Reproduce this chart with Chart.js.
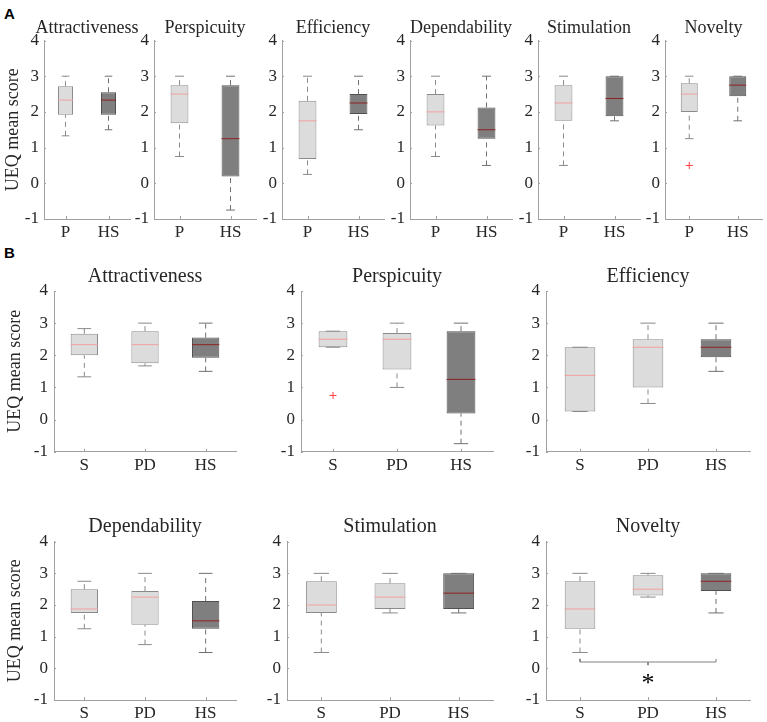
<!DOCTYPE html>
<html>
<head>
<meta charset="utf-8">
<script src="https://cdn.jsdelivr.net/npm/chart.js@4.4.1/dist/chart.umd.min.js"></script>
<style>
  html,body{margin:0;padding:0;background:#fff;}
  body{width:767px;height:722px;position:relative;overflow:hidden;}
  canvas{position:absolute;left:0;top:0;}
  .plab{position:absolute;font:bold 15px "Liberation Sans",Arial,sans-serif;color:#000;line-height:1;}
</style>
</head>
<body>
<div class="plab" style="left:4px;top:6px;">A</div>
<div class="plab" style="left:4px;top:245px;">B</div>
<script>
// ---------------- data ----------------
const scaleNames = ['Attractiveness','Perspicuity','Efficiency','Dependability','Stimulation','Novelty'];
const groupsA = ['P','HS'];
const groupsB = ['S','PD','HS'];
const yTickMin = -1, yTickMax = 4, yTickStep = 1;
const yLabel = 'UEQ mean score';

// five-number summaries per UEQ scale (same order as scaleNames)
const P_low  = [1.33, 0.75, 0.25, 0.75, 0.5, 1.25];
const P_q1   = [1.92, 1.68, 0.68, 1.62, 1.75, 2.0];
const P_med  = [2.33, 2.5, 1.75, 2.0, 2.25, 2.5];
const P_q3   = [2.72, 2.75, 2.31, 2.5, 2.75, 2.8];
const P_high = [3, 3, 3, 3, 3, 3];

const S_low  = [1.33, 2.25, 0.25, 1.25, 0.5, 0.5];
const S_q1   = [2.0, 2.25, 0.25, 1.75, 1.75, 1.25];
const S_med  = [2.33, 2.5, 1.375, 1.875, 2.0, 1.875];
const S_q3   = [2.67, 2.75, 2.25, 2.5, 2.75, 2.75];
const S_high = [2.83, 2.75, 2.25, 2.75, 3, 3];

const PD_low  = [1.67, 1.0, 0.5, 0.75, 1.75, 2.25];
const PD_q1   = [1.75, 1.56, 1.0, 1.375, 1.875, 2.3];
const PD_med  = [2.33, 2.5, 2.25, 2.25, 2.25, 2.5];
const PD_q3   = [2.75, 2.69, 2.5, 2.44, 2.69, 2.94];
const PD_high = [3, 3, 3, 3, 3, 3];

const HS_low  = [1.5, -0.75, 1.5, 0.5, 1.75, 1.75];
const HS_q1   = [1.92, 0.19, 1.94, 1.25, 1.875, 2.44];
const HS_med  = [2.33, 1.25, 2.25, 1.5, 2.375, 2.75];
const HS_q3   = [2.55, 2.75, 2.5, 2.125, 3, 3];
const HS_high = [3, 3, 3, 3, 3, 3];

// outliers: [scale index, value]
const P_outliers = [[5, 0.5]];
const S_outliers = [[1, 0.75]];

// significance bracket (panel B, Novelty): S vs HS
const sigScaleIndex = 5;
const sigFrom = 'S', sigTo = 'HS', sigMid = 'PD';
const sigLevel = 0.2, sigMarkLevel = -0.3, sigMark = '*';

// ---------------- layout / style ----------------
const FONT = '"Liberation Serif","Times New Roman",serif';
const TXT = '#262626';
const AXIS = '#a0a0a0';
const LIGHT = {fill:'#dcdcdc', edge:'#8a8a8a', med:'#f2a0a0', whisk:'#8a8a8a'};
const DARK  = {fill:'#7f7f7f', edge:'#505050', med:'#8e2222', whisk:'#707070'};

const rowA = {top:40.5, bottom:219, titleGap:12.5, lefts:[44,154,282,410,538,665], rights:[130,256,384,512,640,767],
  boxFrac:0.35, tickFont:17, titleFont:18, xPad:3, yPad:5, ylabPad:2};
const rowB1 = {top:291, bottom:451.7, titleGap:14, lefts:[54,301,546], rights:[236,493,750],
  boxFrac:0.45, tickFont:17, titleFont:20, xPad:4, yPad:6, ylabPad:4};
const rowB2 = {top:541.7, bottom:700, titleGap:14.7, lefts:[54,287,546], rights:[236,493,750],
  boxFrac:0.45, tickFont:17, titleFont:20, xPad:3, yPad:6, ylabPad:4};

// ---------------- plugins ----------------
const panelTitle = {
  id:'panelTitle',
  afterDraw(chart, args, o){
    const a = chart.chartArea, ctx = chart.ctx;
    ctx.save();
    ctx.font = o.size + 'px ' + FONT;
    ctx.fillStyle = TXT; ctx.textAlign = 'center'; ctx.textBaseline = 'middle';
    ctx.fillText(o.text, (a.left + a.right)/2, a.top - o.gap);
    if (o.mark) {
      const px = chart.scales.x.getPixelForValue(chart.scales.x.parse(o.mark.x));
      const py = chart.scales.y.getPixelForValue(o.mark.y);
      ctx.font = '26px ' + FONT; ctx.fillStyle = '#000';
      ctx.textBaseline = 'alphabetic';
      ctx.fillText(o.mark.text, px, py + 13);
    }
    ctx.restore();
  }
};
const inwardTicks = {
  id:'inwardTicks',
  afterDraw(chart){
    const {ctx, chartArea:a, scales:{x, y}} = chart;
    ctx.save(); ctx.strokeStyle = AXIS; ctx.lineWidth = 1; ctx.beginPath();
    x.ticks.forEach((t,i)=>{ const p = Math.round(x.getPixelForTick(i)) + 0.5; ctx.moveTo(p, a.bottom); ctx.lineTo(p, a.bottom - 3); });
    y.ticks.forEach((t,i)=>{ const p = Math.round(y.getPixelForTick(i)) + 0.5; ctx.moveTo(a.left, p); ctx.lineTo(a.left + 2, p); });
    ctx.stroke(); ctx.restore();
  }
};

// ---------------- panel builder ----------------
function makePanel(row, k, title, groups, st, outliers, showYLabel, sig){
  const left = row.lefts[k], right = row.rights[k];
  const W = showYLabel ? left : 40, H = 30;
  const cv = document.createElement('canvas');
  cv.width = 767; cv.height = 722;
  document.body.appendChild(cv);
  const n = groups.length;
  const sty = groups.map(g => g === 'HS' ? DARK : LIGHT);
  const halfBox = ctx => ctx.chart.scales.x.width / n * row.boxFrac / 2;
  const halfCap = ctx => ctx.chart.scales.x.width / n * row.boxFrac / 4;

  const datasets = [];
  datasets.push({
    type:'bar', data: groups.map((g,i)=>[st.q1[i], st.q3[i]]),
    backgroundColor: sty.map(s=>s.fill), borderColor: sty.map(s=>s.edge), borderWidth:1, borderSkipped:false,
    barPercentage: row.boxFrac, categoryPercentage: 1, order:3
  });
  groups.forEach((g,i)=>{
    datasets.push({
      type:'line', data:[{x:g,y:st.q3[i]},{x:g,y:st.high[i]},{x:g,y:null},{x:g,y:st.low[i]},{x:g,y:st.q1[i]}],
      borderColor: sty[i].whisk, borderWidth:1, borderDash:[5,4], pointRadius:0, spanGaps:false, fill:false, order:4
    });
  });
  datasets.push({
    type:'line', showLine:false,
    data: groups.flatMap((g,i)=>[{x:g,y:st.high[i]},{x:g,y:st.low[i]}]),
    pointStyle:'line', pointRadius: halfCap, pointBorderWidth:1,
    pointBorderColor: groups.flatMap((g,i)=>[sty[i].whisk, sty[i].whisk]), order:2
  });
  datasets.push({
    type:'line', showLine:false,
    data: groups.map((g,i)=>({x:g,y:st.med[i]})),
    pointStyle:'line', pointRadius: halfBox, pointBorderWidth:1,
    pointBorderColor: sty.map(s=>s.med), order:1
  });
  if (outliers.length) {
    datasets.push({
      type:'line', showLine:false, data: outliers.map(o=>({x:o[0], y:o[1]})),
      pointStyle:'cross', pointRadius:3.5, pointBorderWidth:1, pointBorderColor:'#ff4040', order:1
    });
  }
  let mark = null;
  if (sig) {
    datasets.push({
      type:'line', data:[{x:sig.from,y:sig.level+0.1},{x:sig.from,y:sig.level},{x:sig.to,y:sig.level},{x:sig.to,y:sig.level+0.1},
        {x:sig.to,y:null},{x:sig.mid,y:sig.level},{x:sig.mid,y:sig.level-0.1}],
      borderColor:'#808080', borderWidth:1, pointRadius:0, spanGaps:false, fill:false, order:2
    });
    mark = {x:sig.mid, y:sig.markLevel, text:sig.mark};
  }

  new Chart(cv, {
    type:'bar',
    data:{labels: groups, datasets},
    plugins:[panelTitle, inwardTicks],
    options:{
      responsive:false, animation:false, events:[],
      layout:{padding:{left:left - W, right:767 - right, top:row.top, bottom:722 - row.bottom - H}},
      plugins:{legend:{display:false}, tooltip:{enabled:false},
        panelTitle:{text:title, size:row.titleFont, gap:row.titleGap, mark}},
      scales:{
        x:{ type:'category', offset:true,
          grid:{display:false, drawTicks:false}, border:{display:true, color:AXIS, width:1},
          ticks:{font:{family:FONT, size:row.tickFont}, color:TXT, padding:row.xPad, maxRotation:0, autoSkip:false},
          afterFit: s => { s.height = H; } },
        y:{ min:yTickMin, max:yTickMax,
          grid:{display:false, drawTicks:false}, border:{display:true, color:AXIS, width:1},
          ticks:{stepSize:yTickStep, font:{family:FONT, size:row.tickFont}, color:TXT, padding:row.yPad},
          title:{display:showYLabel, text:yLabel, font:{family:FONT, size:18}, color:TXT, padding:{top:row.ylabPad, bottom:0}},
          afterFit: s => { s.width = W; } }
      }
    }
  });
}

// ---------------- build panels ----------------
function pick(arrs, i){ return arrs.map(a=>a[i]); }
// Row A: P vs HS
scaleNames.forEach((name, i)=>{
  const st = {low:pick([P_low,HS_low],i), q1:pick([P_q1,HS_q1],i), med:pick([P_med,HS_med],i), q3:pick([P_q3,HS_q3],i), high:pick([P_high,HS_high],i)};
  const outs = P_outliers.filter(o=>o[0]===i).map(o=>['P', o[1]]);
  makePanel(rowA, i, name, groupsA, st, outs, i === 0, null);
});
// Row B: S, PD, HS
scaleNames.forEach((name, i)=>{
  const row = i < 3 ? rowB1 : rowB2;
  const st = {low:pick([S_low,PD_low,HS_low],i), q1:pick([S_q1,PD_q1,HS_q1],i), med:pick([S_med,PD_med,HS_med],i),
              q3:pick([S_q3,PD_q3,HS_q3],i), high:pick([S_high,PD_high,HS_high],i)};
  const outs = S_outliers.filter(o=>o[0]===i).map(o=>['S', o[1]]);
  const sig = i === sigScaleIndex ? {from:sigFrom, to:sigTo, mid:sigMid, level:sigLevel, markLevel:sigMarkLevel, mark:sigMark} : null;
  makePanel(row, i % 3, name, groupsB, st, outs, i % 3 === 0, sig);
});
</script>
</body>
</html>
